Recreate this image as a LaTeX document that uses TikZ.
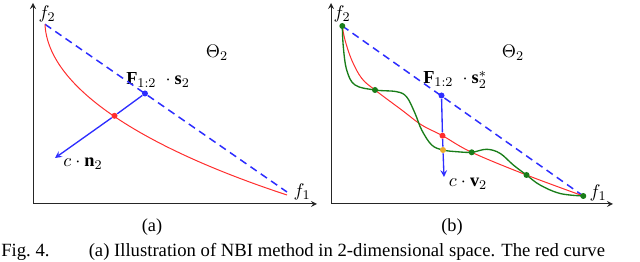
\documentclass[tikz,border=0pt]{standalone}
\usepackage{fontspec}
\setmainfont{Liberation Serif}
\usepackage{amsmath,tikz}
\usetikzlibrary{arrows,shapes}
\definecolor{nbired}{RGB}{255,45,45}
\definecolor{nbiblue}{RGB}{45,45,255}
\definecolor{nbigreen}{RGB}{25,125,25}
\definecolor{nbiorange}{RGB}{235,170,45}
\tikzstyle{axis}=[<->, >=stealth, line width=0.6pt, black!85]
\tikzstyle{front}=[nbired, line width=0.6pt]
\tikzstyle{chim}=[nbiblue, dash pattern=on 4.5pt off 3pt, line width=0.9pt]
\tikzstyle{nline}=[->, >=stealth, nbiblue, line width=0.8pt]
\tikzstyle{greenc}=[nbigreen, line width=0.8pt]
\tikzstyle{dot}=[circle, inner sep=0pt, minimum size=3.6pt]
\tikzstyle{lbl}=[inner sep=1pt, font=\fontsize{11}{13}\selectfont]

\begin{document}
\begin{tikzpicture}[x=0.6pt,y=-0.6pt]
\useasboundingbox (0,0) rectangle (640,262);
% (a)
\coordinate (ya) at (33,3); \coordinate (oa) at (33,204); \coordinate (xa) at (317,204);
\draw[axis] (ya)--(oa)--(xa);
\node[lbl] (fa2) at (47,14) {$f_2$};
\node[lbl] (fa1) at (302,192) {$f_1$};
\node[lbl] (tha) at (217,53) {$\Theta_2$};
\node[lbl] (Fa) at (158,80) {$\mathbf{F}_{1:2}\;\cdot\mathbf{s}_2$};
\node[lbl] (cna) at (83,164) {$c\cdot\mathbf{n}_2$};
\node[lbl] (capa) at (152,227) {(a)};
\coordinate (ta) at (45,24.3); \coordinate (ea) at (287,195); \coordinate (da) at (287,192);
\coordinate (na) at (55,158);
\node[dot,fill=nbiblue] (ba) at (145,93.5) {};
\draw[chim] (ta)--(da);
\draw[front] (ta) .. controls (48,90) and (150,150) .. (ea);
\node[dot,fill=nbired] (ra) at (114.5,115.8) {};
\draw[nline] (ba)--(ra)--(na);
% (b)
\coordinate (yb) at (331,3); \coordinate (ob) at (331,204); \coordinate (xb) at (613,204);
\draw[axis] (yb)--(ob)--(xb);
\node[lbl] (fb2) at (342,14) {$f_2$};
\node[lbl] (fb1) at (598,193) {$f_1$};
\node[lbl] (thb) at (513,53) {$\Theta_2$};
\node[lbl] (Fb) at (455,80) {$\mathbf{F}_{1:2}\;\cdot\mathbf{s}_2^{*}$};
\node[lbl] (cvb) at (468,184) {$c\cdot\mathbf{v}_2$};
\node[lbl] (capb) at (452,227) {(b)};
\coordinate (tb) at (342.3,26); \coordinate (eb) at (583.3,196);
\coordinate (vb) at (444,177);
\draw[chim] (tb)--(eb);
\draw[front] plot[smooth,tension=0.6] coordinates {(tb) (345,40) (351.7,60) (361.7,78.3) (375,90) (401.7,110) (421.7,125) (442.5,135.7) (471.7,152.3) (526.5,175) (eb)};
\draw[greenc] plot[smooth,tension=0.6] coordinates {(tb) (343.3,46.7) (346.7,70) (355,85) (375,90) (396.7,91.7) (406.7,97) (415,113.3) (421.7,130) (431.7,145) (443,150) (456.7,151.7) (471.7,152.3) (486.7,149.3) (500,153.3) (513.3,165) (526.5,175) (540,185) (560,193.5) (eb)};
\node[dot,fill=nbiblue] (bb) at (441.5,95.5) {};
\node[dot,fill=nbired] (rb) at (442.5,135.7) {};
\node[dot,fill=nbiorange] (ob2) at (443,150) {};
\draw[nline] (bb)--(rb)--(ob2)--(vb);
\node[dot,fill=nbigreen] (gb0) at (tb) {};
\node[dot,fill=nbigreen] (gb1) at (375,90) {};
\node[dot,fill=nbigreen] (gb2) at (471.7,152.3) {};
\node[dot,fill=nbigreen] (gb3) at (526.5,175) {};
\node[dot,fill=nbigreen] (gb4) at (eb) {};
% caption
\node[anchor=base west,inner sep=0pt,font=\fontsize{11.2}{13}\selectfont] (figcap) at (1,256.5) {Fig.~4.\hspace{2.1em}(a) Illustration of NBI method in 2-dimensional space. The red curve};
\end{tikzpicture}
\end{document}
